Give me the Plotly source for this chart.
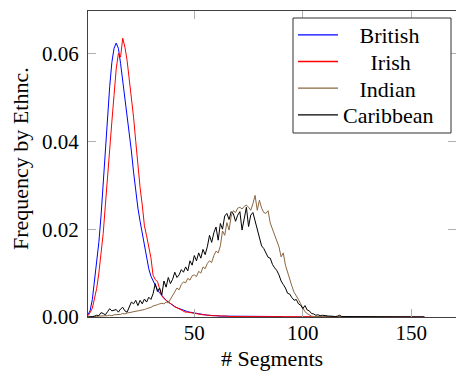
import plotly.graph_objects as go

segments = list(range(1, 157))

british = [
    0.0005, 0.0015, 0.0040, 0.0080, 0.0120, 0.0170, 0.0230, 0.0310, 0.0390, 0.0460,
    0.0525, 0.0580, 0.0612, 0.0624, 0.0612, 0.0578, 0.0540, 0.0500, 0.0462, 0.0420,
    0.0378, 0.0330, 0.0282, 0.0248, 0.0218, 0.0190, 0.0157, 0.0132, 0.0110, 0.0093,
    0.0082, 0.0072, 0.0062, 0.0055, 0.0049, 0.0043, 0.0038, 0.0034, 0.0030, 0.0027,
    0.0024, 0.0021, 0.0019, 0.0017, 0.0015, 0.0014, 0.0012, 0.0011, 0.0010, 0.0009,
    0.0008, 0.0007, 0.0006, 0.0006, 0.0005, 0.0004, 0.0004, 0.0003, 0.0003, 0.0003,
    0.0002, 0.0002, 0.0002, 0.0002, 0.0002, 0.0002, 0.0001, 0.0001, 0.0001, 0.0001,
    0.0001, 0.0001, 0.0001, 0.0001, 0.0001, 0.0001, 0.0001, 0.0001, 0.0001, 0.0001,
    0.0001, 0.0001, 0.0001, 0.0001, 0.0001, 0.0001, 0.0001, 0.0001, 0.0001, 0.0001,
    0.0000, 0.0000, 0.0000, 0.0000, 0.0000, 0.0000, 0.0000, 0.0000, 0.0000, 0.0000,
    0.0000, 0.0000, 0.0000, 0.0000, 0.0000, 0.0000, 0.0000, 0.0000, 0.0000, 0.0000,
    0.0000, 0.0000, 0.0000, 0.0000, 0.0000, 0.0000, 0.0000, 0.0000, 0.0000, 0.0000,
    0.0000, 0.0000, 0.0000, 0.0000, 0.0000, 0.0000, 0.0000, 0.0000, 0.0000, 0.0000,
    0.0000, 0.0000, 0.0000, 0.0000, 0.0000, 0.0000, 0.0000, 0.0000, 0.0000, 0.0000,
    0.0000, 0.0000, 0.0000, 0.0000, 0.0000, 0.0000, 0.0000, 0.0000, 0.0000, 0.0000,
    0.0000, 0.0000, 0.0000, 0.0000, 0.0000, 0.0000,
]

irish = [
    0.0003, 0.0010, 0.0020, 0.0040, 0.0065, 0.0100, 0.0140, 0.0190, 0.0255, 0.0325,
    0.0385, 0.0445, 0.0505, 0.0565, 0.0600, 0.0592, 0.0635, 0.0615, 0.0585, 0.0545,
    0.0505, 0.0455, 0.0400, 0.0340, 0.0295, 0.0255, 0.0208, 0.0185, 0.0163, 0.0135,
    0.0095, 0.0085, 0.0081, 0.0062, 0.0048, 0.0042, 0.0038, 0.0034, 0.0030, 0.0026,
    0.0023, 0.0021, 0.0019, 0.0016, 0.0013, 0.0011, 0.0011, 0.0010, 0.0009, 0.0008,
    0.0007, 0.0007, 0.0006, 0.0005, 0.0005, 0.0004, 0.0004, 0.0003, 0.0003, 0.0003,
    0.0002, 0.0002, 0.0002, 0.0002, 0.0002, 0.0001, 0.0001, 0.0001, 0.0001, 0.0001,
    0.0001, 0.0001, 0.0001, 0.0001, 0.0001, 0.0001, 0.0001, 0.0001, 0.0001, 0.0001,
    0.0001, 0.0001, 0.0001, 0.0001, 0.0001, 0.0000, 0.0000, 0.0000, 0.0000, 0.0000,
    0.0000, 0.0000, 0.0000, 0.0000, 0.0000, 0.0000, 0.0000, 0.0000, 0.0000, 0.0000,
    0.0000, 0.0000, 0.0000, 0.0000, 0.0000, 0.0000, 0.0000, 0.0000, 0.0000, 0.0000,
    0.0000, 0.0000, 0.0000, 0.0000, 0.0000, 0.0000, 0.0000, 0.0000, 0.0000, 0.0000,
    0.0000, 0.0000, 0.0000, 0.0000, 0.0000, 0.0000, 0.0000, 0.0000, 0.0000, 0.0000,
    0.0000, 0.0000, 0.0000, 0.0000, 0.0000, 0.0000, 0.0000, 0.0000, 0.0000, 0.0000,
    0.0000, 0.0000, 0.0000, 0.0000, 0.0000, 0.0000, 0.0000, 0.0000, 0.0000, 0.0000,
    0.0000, 0.0000, 0.0000, 0.0000, 0.0000, 0.0000,
]

indian = [
    0.0000, 0.0000, 0.0001, 0.0001, 0.0001, 0.0002, 0.0002, 0.0002, 0.0003, 0.0003,
    0.0004, 0.0003, 0.0005, 0.0005, 0.0006, 0.0006, 0.0008, 0.0007, 0.0009, 0.0010,
    0.0010, 0.0011, 0.0012, 0.0014, 0.0015, 0.0016, 0.0017, 0.0019, 0.0020, 0.0022,
    0.0025, 0.0026, 0.0028, 0.0030, 0.0031, 0.0030, 0.0034, 0.0032, 0.0040, 0.0048,
    0.0058, 0.0066, 0.0062, 0.0074, 0.0080, 0.0078, 0.0088, 0.0084, 0.0094, 0.0096,
    0.0092, 0.0104, 0.0100, 0.0114, 0.0110, 0.0122, 0.0128, 0.0124, 0.0140, 0.0150,
    0.0146, 0.0162, 0.0196, 0.0186, 0.0215, 0.0198, 0.0230, 0.0242, 0.0238, 0.0248,
    0.0250, 0.0246, 0.0252, 0.0255, 0.0250, 0.0243, 0.0258, 0.0277, 0.0243, 0.0266,
    0.0248, 0.0238, 0.0236, 0.0242, 0.0214, 0.0200, 0.0188, 0.0172, 0.0160, 0.0137,
    0.0146, 0.0118, 0.0100, 0.0088, 0.0070, 0.0056, 0.0049, 0.0040, 0.0030, 0.0022,
    0.0012, 0.0008, 0.0004, 0.0002, 0.0001, 0.0001, 0.0001, 0.0000, 0.0001, 0.0000,
    0.0000, 0.0000, 0.0000, 0.0000, 0.0000, 0.0000, 0.0000, 0.0000, 0.0000, 0.0000,
    0.0000, 0.0000, 0.0000, 0.0000, 0.0000, 0.0000, 0.0000, 0.0000, 0.0000, 0.0000,
    0.0000, 0.0000, 0.0000, 0.0000, 0.0000, 0.0000, 0.0000, 0.0000, 0.0000, 0.0000,
    0.0000, 0.0000, 0.0000, 0.0000, 0.0000, 0.0000, 0.0000, 0.0000, 0.0000, 0.0000,
    0.0000, 0.0000, 0.0000, 0.0000, 0.0000, 0.0000,
]

caribbean = [
    0.0000, 0.0000, 0.0001, 0.0002, 0.0004, 0.0003, 0.0010, 0.0008, 0.0005, 0.0012,
    0.0019, 0.0014, 0.0015, 0.0017, 0.0011, 0.0018, 0.0022, 0.0014, 0.0011, 0.0024,
    0.0034, 0.0030, 0.0038, 0.0026, 0.0038, 0.0030, 0.0041, 0.0034, 0.0045, 0.0040,
    0.0053, 0.0076, 0.0058, 0.0066, 0.0050, 0.0082, 0.0068, 0.0090, 0.0076, 0.0086,
    0.0102, 0.0090, 0.0096, 0.0108, 0.0102, 0.0114, 0.0105, 0.0128, 0.0118, 0.0140,
    0.0128, 0.0146, 0.0134, 0.0154, 0.0142, 0.0160, 0.0186, 0.0170, 0.0192, 0.0205,
    0.0175, 0.0213, 0.0200, 0.0230, 0.0236, 0.0222, 0.0240, 0.0235, 0.0218, 0.0232,
    0.0240, 0.0198, 0.0228, 0.0250, 0.0206, 0.0232, 0.0238, 0.0218, 0.0197, 0.0176,
    0.0162, 0.0156, 0.0146, 0.0136, 0.0134, 0.0120, 0.0112, 0.0106, 0.0096, 0.0082,
    0.0074, 0.0066, 0.0054, 0.0052, 0.0044, 0.0038, 0.0040, 0.0030, 0.0027, 0.0019,
    0.0026, 0.0016, 0.0014, 0.0008, 0.0007, 0.0004, 0.0005, 0.0003, 0.0004, 0.0003,
    0.0003, 0.0002, 0.0002, 0.0001, 0.0001, 0.0002, 0.0004, 0.0001, 0.0001, 0.0000,
    0.0001, 0.0000, 0.0000, 0.0001, 0.0000, 0.0000, 0.0000, 0.0000, 0.0000, 0.0000,
    0.0000, 0.0000, 0.0000, 0.0000, 0.0000, 0.0000, 0.0000, 0.0000, 0.0000, 0.0000,
    0.0000, 0.0000, 0.0000, 0.0000, 0.0000, 0.0000, 0.0000, 0.0000, 0.0000, 0.0000,
    0.0000, 0.0000, 0.0000, 0.0000, 0.0000, 0.0000,
]

series_names = ["British", "Irish", "Indian", "Caribbean"]
series_colors = ["#0000FF", "#FF0000", "#8B6640", "#000000"]
legend_pad = ["\u00a0\u00a0\u00a0", "\u00a0\u00a0\u00a0\u00a0\u00a0", "\u00a0\u00a0\u00a0", ""]
legend_ids = ["legend", "legend2", "legend3", "legend4"]

x_ticks = [50, 100, 150]
y_ticks = [0.0, 0.02, 0.04, 0.06]
y_tick_labels = ["0.00", "0.02", "0.04", "0.06"]

FONT = "Liberation Serif"
FS = 21
FS_TITLE = 22
FS_LEG = 22

# pixel geometry of the plot area (page is 456 x 371)
PL, PR, PT, PB = 88, 456, 11, 317
PW, PH = PR - PL, PB - PT


def px_x(px):
    return (px - PL) / PW


def px_y(py):
    return (PB - py) / PH


fig = go.Figure()
for name, vals, col in zip(series_names, [british, irish, indian, caribbean], series_colors):
    fig.add_trace(go.Scatter(
        x=segments, y=vals, mode="lines", name=name,
        line=dict(color=col, width=1), showlegend=False,
    ))

# legend-only entries (no data drawn), one per legend box row
for name, col, pad, lid in zip(series_names, series_colors, legend_pad, legend_ids):
    fig.add_trace(go.Scatter(
        x=[None], y=[None], mode="lines", name=pad + name,
        line=dict(color=col, width=1.3), legend=lid, showlegend=True,
        hoverinfo="skip",
    ))

# invisible trace for right-side mirrored ticks
fig.add_trace(go.Scatter(x=[segments[0]], y=[0], yaxis="y2", mode="lines",
                         showlegend=False, hoverinfo="skip",
                         line=dict(width=1, color="rgba(0,0,0,0)")))

YR = [0, 0.0697]

row_centres = [35, 61.7, 88.3, 115]
legends = {}
for lid, yc in zip(legend_ids, row_centres):
    legends[lid] = dict(
        x=px_x(293), y=px_y(yc), xanchor="left", yanchor="middle",
        bgcolor="rgba(0,0,0,0)", borderwidth=0,
        font=dict(family=FONT, size=FS_LEG), itemwidth=40,
    )

fig.update_layout(
    width=456, height=371,
    margin=dict(l=PL, r=456 - PR, t=PT, b=371 - PB),
    paper_bgcolor="white", plot_bgcolor="white",
    font=dict(family=FONT, size=FS, color="#000"),
    xaxis=dict(
        range=[1, 170.6], tickvals=x_ticks, ticks="inside", ticklen=8,
        tickcolor="#b0b0b0", showgrid=False, zeroline=False,
        showline=True, linecolor="#404040", linewidth=1, mirror="ticks",
        tickfont=dict(family=FONT, size=FS), ticklabelstandoff=-3,
    ),
    yaxis=dict(
        range=YR, tickvals=y_ticks, ticktext=y_tick_labels, ticks="inside",
        ticklen=8, tickcolor="#b0b0b0", showgrid=False, zeroline=False,
        showline=True, linecolor="#404040", linewidth=1,
        tickfont=dict(family=FONT, size=FS), ticklabelstandoff=4,
    ),
    yaxis2=dict(
        range=YR, tickvals=y_ticks, ticks="inside", ticklen=8,
        tickcolor="#b0b0b0", overlaying="y", side="right",
        showticklabels=False, showgrid=False, zeroline=False, showline=False,
    ),
    showlegend=True,
    shapes=[
        dict(type="rect", xref="paper", yref="paper", layer="above",
             x0=px_x(293), x1=px_x(451), y0=px_y(133), y1=px_y(18),
             fillcolor="white", line=dict(color="#303030", width=1)),
    ],
    annotations=[
        dict(text="# Segments", xref="paper", yref="paper",
             x=0.5, y=px_y(358.5), xanchor="center", yanchor="middle",
             showarrow=False, font=dict(family=FONT, size=FS_TITLE)),
        dict(text="Frequency by Ethnc.", xref="paper", yref="paper",
             x=px_x(21), y=px_y(159), xanchor="center", yanchor="middle",
             textangle=-90, showarrow=False, font=dict(family=FONT, size=FS_TITLE)),
    ],
    **legends,
)

fig.write_html("out.html")
